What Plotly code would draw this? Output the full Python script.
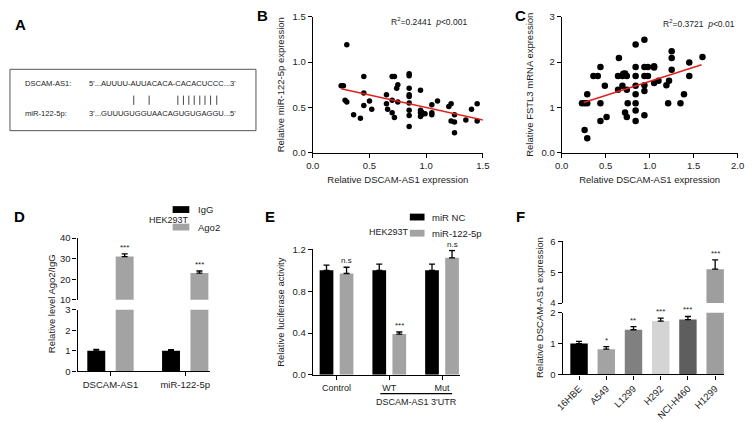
import plotly.graph_objects as go

# ---------------- data ----------------
# Panel B: DSCAM-AS1 vs miR-122-5p
b_x = [0.30, 0.25, 0.27, 0.285, 0.30, 0.36, 0.42, 0.45, 0.45, 0.45, 0.50, 0.52, 0.65, 0.65, 0.66,
       0.70, 0.70, 0.70, 0.72, 0.72, 0.74, 0.75, 0.75, 0.85, 0.85, 0.85, 0.85, 0.85, 0.85, 0.85,
       0.85, 0.85, 0.95, 0.95, 0.95, 0.95, 0.96, 0.96, 0.99, 1.05, 1.05, 1.05, 1.10, 1.20, 1.22,
       1.22, 1.25, 1.25, 1.25, 1.35, 1.40, 1.45, 1.45]
b_y = [1.19, 0.74, 0.74, 0.58, 0.56, 0.42, 0.38, 0.84, 0.66, 0.52, 0.57, 0.48, 0.64, 0.54, 0.48,
       0.58, 0.44, 0.84, 0.84, 0.39, 0.71, 0.75, 0.56, 0.87, 0.85, 0.71, 0.64, 0.62, 0.55, 0.47,
       0.41, 0.29, 0.69, 0.47, 0.44, 0.40, 0.45, 0.42, 0.43, 0.53, 0.44, 0.42, 0.57, 0.51, 0.54,
       0.35, 0.42, 0.34, 0.22, 0.36, 0.48, 0.54, 0.35]
b_fit_x = [0.25, 1.51]
b_fit_y = [0.705, 0.36]
b_stat = "R<sup>2</sup>=0.2441  <i>p</i><0.001"

# Panel C: DSCAM-AS1 vs FSTL3
c_x = [0.23, 0.26, 0.29, 0.29, 0.26, 0.29, 0.36, 0.41, 0.44, 0.44, 0.44, 0.49, 0.51, 0.64, 0.64,
       0.65, 0.69, 0.70, 0.72, 0.74, 0.69, 0.74, 0.72, 0.74, 0.75, 0.84, 0.84, 0.84, 0.84, 0.84,
       0.84, 0.84, 0.84, 0.94, 0.94, 0.94, 0.94, 0.94, 0.94, 0.98, 0.98, 1.05, 1.05, 1.05, 1.10,
       1.19, 1.22, 1.21, 1.25, 1.25, 1.25, 1.35, 1.39, 1.45, 1.45, 1.60]
c_y = [1.09, 1.09, 1.09, 1.29, 0.50, 0.32, 1.69, 1.69, 1.89, 1.09, 0.70, 1.48, 0.79, 1.69, 1.39,
       2.09, 1.69, 1.74, 1.75, 1.69, 1.48, 1.39, 0.89, 0.79, 1.09, 2.39, 1.89, 1.69, 1.48, 1.29,
       1.09, 0.93, 0.70, 2.49, 1.89, 1.69, 1.49, 1.36, 0.83, 1.89, 1.69, 1.91, 1.88, 1.54, 1.59,
       1.49, 1.59, 1.09, 2.24, 2.09, 1.83, 1.09, 1.29, 1.99, 1.69, 2.11]
c_fit_x = [0.25, 1.59]
c_fit_y = [1.11, 1.94]
c_stat = "R<sup>2</sup>=0.3721  <i>p</i><0.01"

# Panel D: RIP assay
d_cats = ["DSCAM-AS1", "miR-122-5p"]
d_series = ["IgG", "Ago2"]
d_igg = [1.0, 1.0]
d_igg_err = [0.07, 0.06]
d_ago2 = [31.0, 23.0]
d_ago2_err = [1.3, 1.0]
d_sig = ["***", "***"]

# Panel E: luciferase
e_cats = ["Control", "WT", "Mut"]
e_series = ["miR NC", "miR-122-5p"]
e_nc = [1.0, 1.0, 1.0]
e_nc_err = [0.05, 0.06, 0.06]
e_mir = [0.97, 0.39, 1.12]
e_mir_err = [0.06, 0.02, 0.07]
e_sig = ["n.s", "***", "n.s"]

# Panel F: cell lines
f_cats = ["16HBE", "A549", "L1299", "H292", "NCI-H460", "H1299"]
f_vals = [1.0, 0.82, 1.45, 1.73, 1.78, 5.1]
f_err = [0.07, 0.08, 0.1, 0.1, 0.1, 0.3]
f_sig = ["", "*", "**", "***", "***", "***"]
f_colors = ["#000000", "#a3a3a3", "#808080", "#d4d4d4", "#5e5e5e", "#9e9e9e"]

# Panel A: sequences
seq_top_label = "DSCAM-AS1:"
seq_top = "5'...AUUUU-AUUACACA-CACACUCCC...3'"
seq_bot_label = "miR-122-5p:"
seq_bot = "3'...GUUUGUGGUAACAGUGUGAGGU...5'"

# ---------------- layout helpers ----------------
W, H = 752, 422
FONT = "Liberation Sans, Arial, sans-serif"
TXT = "#222222"
GRAY = "#a3a3a3"
SERIES_COLORS = ["black", GRAY]


def px(x):
    return x / W


def py(y):
    return 1 - y / H


axis_style = dict(showline=True, linecolor="black", linewidth=1.3, ticks="outside",
                  ticklen=4, tickwidth=1.3, tickcolor="black", showgrid=False,
                  zeroline=False, tickfont=dict(size=9.5, color=TXT, family=FONT))

fig = go.Figure()

# ---- B ----
fig.add_trace(go.Scatter(x=b_x, y=b_y, mode="markers", marker=dict(color="black", size=5.5),
                         xaxis="x", yaxis="y", showlegend=False))
fig.add_trace(go.Scatter(x=b_fit_x, y=b_fit_y, mode="lines", line=dict(color="#e3201b", width=1.5),
                         xaxis="x", yaxis="y", showlegend=False))
# ---- C ----
fig.add_trace(go.Scatter(x=c_x, y=c_y, mode="markers", marker=dict(color="black", size=6.5),
                         xaxis="x2", yaxis="y2", showlegend=False))
fig.add_trace(go.Scatter(x=c_fit_x, y=c_fit_y, mode="lines", line=dict(color="#e3201b", width=1.5),
                         xaxis="x2", yaxis="y2", showlegend=False))

err_style = dict(type="data", symmetric=False, color="black", thickness=1.3, width=3)

# ---- D (broken axis: bottom x3/y3, top x4/y4) ----
for xa, ya in (("x3", "y3"), ("x4", "y4")):
    fig.add_trace(go.Bar(x=d_cats, y=d_igg, name=d_series[0],
                         marker=dict(color=SERIES_COLORS[0], line_width=0),
                         width=0.24, offset=-0.31, xaxis=xa, yaxis=ya, showlegend=False,
                         error_y=dict(array=d_igg_err, arrayminus=[0] * len(d_igg), **err_style)))
    fig.add_trace(go.Bar(x=d_cats, y=d_ago2, name=d_series[1],
                         marker=dict(color=SERIES_COLORS[1], line_width=0),
                         width=0.24, offset=0.07, xaxis=xa, yaxis=ya, showlegend=False,
                         error_y=dict(array=d_ago2_err, arrayminus=[0] * len(d_ago2), **err_style)))

# ---- E ----
fig.add_trace(go.Bar(x=e_cats, y=e_nc, name=e_series[0],
                     marker=dict(color=SERIES_COLORS[0], line_width=0),
                     width=0.26, offset=-0.32, xaxis="x5", yaxis="y5", showlegend=False,
                     error_y=dict(array=e_nc_err, arrayminus=[0] * 3, **err_style)))
fig.add_trace(go.Bar(x=e_cats, y=e_mir, name=e_series[1],
                     marker=dict(color=SERIES_COLORS[1], line_width=0),
                     width=0.26, offset=0.06, xaxis="x5", yaxis="y5", showlegend=False,
                     error_y=dict(array=e_mir_err, arrayminus=[0] * 3, **err_style)))

# ---- F (broken axis: bottom x6/y6, top x7/y7) ----
for xa, ya in (("x6", "y6"), ("x7", "y7")):
    fig.add_trace(go.Bar(x=f_cats, y=f_vals, marker=dict(color=f_colors, line_width=0),
                         width=0.64, xaxis=xa, yaxis=ya, showlegend=False,
                         error_y=dict(array=f_err, arrayminus=[0] * len(f_vals), **err_style)))

lay = dict(
    width=W, height=H, autosize=False,
    margin=dict(l=0, r=0, t=0, b=0),
    paper_bgcolor="white", plot_bgcolor="white",
    font=dict(family=FONT, size=9.5, color=TXT),
    barmode="overlay", showlegend=False,
)

title_font = dict(size=9.5, color=TXT, family=FONT)

lay["xaxis"] = dict(axis_style, domain=[px(311), px(484.5)], range=[0, 1.5], anchor="y",
                    tickvals=[0, 0.5, 1.0, 1.5], ticktext=["0.0", "0.5", "1.0", "1.5"],
                    title=dict(text="Relative DSCAM-AS1 expression", font=title_font, standoff=6))
lay["yaxis"] = dict(axis_style, domain=[py(150.7), py(11)], range=[0, 1.5], anchor="x",
                    tickvals=[0, 0.5, 1.0, 1.5], ticktext=["0.0", "0.5", "1.0", "1.5"],
                    title=dict(text="Relative miR-122-5p expression", font=title_font, standoff=6))
lay["xaxis2"] = dict(axis_style, domain=[px(565), px(744.5)], range=[0, 2], anchor="y2",
                     tickvals=[0, 0.5, 1.0, 1.5, 2.0], ticktext=["0.0", "0.5", "1.0", "1.5", "2.0"],
                     title=dict(text="Relative DSCAM-AS1 expression", font=title_font, standoff=6))
lay["yaxis2"] = dict(axis_style, domain=[py(150.7), py(11)], range=[0, 3], anchor="x2",
                     tickvals=[0, 1, 2, 3], ticktext=["0.0", "1", "2", "3"],
                     title=dict(text="Relative FSTL3 mRNA expression", font=title_font, standoff=6))

# D
lay["xaxis3"] = dict(axis_style, domain=[px(71), px(206)], type="category", range=[-0.44, 1.33],
                     anchor="y3")
lay["yaxis3"] = dict(axis_style, domain=[py(375), py(312)], range=[0, 3], anchor="x3",
                     tickvals=[0, 1, 2, 3])
lay["xaxis4"] = dict(domain=[px(71), px(206)], type="category", range=[-0.44, 1.33],
                     anchor="y4", visible=False, matches="x3")
lay["yaxis4"] = dict(axis_style, domain=[py(301.7), py(238.3)], range=[10, 40], anchor="x4",
                     tickvals=[10, 20, 30, 40])
# E
lay["xaxis5"] = dict(axis_style, domain=[px(311), px(461.7)], type="category",
                     range=[-0.45, 2.35], anchor="y5",
                     tickfont=dict(size=9, color=TXT, family=FONT))
lay["yaxis5"] = dict(axis_style, domain=[py(378.7), py(250)], range=[0, 1.2], anchor="x5",
                     tickvals=[0, 0.4, 0.8, 1.2], ticktext=["0.0", "0.4", "0.8", "1.2"],
                     title=dict(text="Relative luciferase activity", font=title_font, standoff=6))
# F
lay["xaxis6"] = dict(axis_style, domain=[px(566), px(731)], type="category",
                     range=[-0.6, 5.34], anchor="y6", tickangle=-45)
lay["yaxis6"] = dict(axis_style, domain=[py(378.3), py(315)], range=[0, 2], anchor="x6",
                     tickvals=[0, 1, 2])
lay["xaxis7"] = dict(domain=[px(566), px(731)], type="category", range=[-0.6, 5.34],
                     anchor="y7", visible=False, matches="x6")
lay["yaxis7"] = dict(axis_style, domain=[py(305), py(241.7)], range=[4, 6], anchor="x7",
                     tickvals=[4, 5, 6])

fig.update_layout(**lay)

ann = []
shapes = []

# panel letters
for letter, x, y in (("A", 5, 19), ("B", 252, 10), ("C", 515, 10),
                     ("D", 4, 216), ("E", 260, 216), ("F", 516, 216)):
    ann.append(dict(text=f"<b>{letter}</b>", x=px(x), y=py(y), xref="paper", yref="paper",
                    xanchor="left", yanchor="middle", showarrow=False,
                    font=dict(size=15, color="black", family=FONT)))

# panel A sequences
seq_font = dict(size=7.6, color=TXT, family=FONT)
for label, seq, y in ((seq_top_label, seq_top, 80), (seq_bot_label, seq_bot, 110)):
    ann.append(dict(text=label, x=px(15), y=py(y), xref="paper", yref="paper", xanchor="left",
                    yanchor="middle", showarrow=False, font=seq_font))
    ann.append(dict(text=seq, x=px(81), y=py(y), xref="paper", yref="paper", xanchor="left",
                    yanchor="middle", showarrow=False, font=seq_font))

# stats
ann.append(dict(text=b_stat, x=px(470), y=py(16), xref="paper", yref="paper", xanchor="right",
                yanchor="middle", showarrow=False, font=dict(size=8.5, color=TXT, family=FONT)))
ann.append(dict(text=c_stat, x=px(744), y=py(18), xref="paper", yref="paper", xanchor="right",
                yanchor="middle", showarrow=False, font=dict(size=8.5, color=TXT, family=FONT)))

# HEK293T labels
ann.append(dict(text="HEK293T", x=px(142), y=py(220), xref="paper", yref="paper",
                showarrow=False, font=dict(size=9, color=TXT, family=FONT)))
ann.append(dict(text="HEK293T", x=px(389), y=py(232), xref="paper", yref="paper",
                showarrow=False, font=dict(size=9, color=TXT, family=FONT)))

# legends (drawn keys)
leg_font = dict(size=9.5, color=TXT, family=FONT)
for names, x0, x1, tx, ys in ((d_series, 168, 185, 192, (209, 227)),
                              (e_series, 410, 425, 431, (216.7, 233.3))):
    for name, col, yc in zip(names, SERIES_COLORS, ys):
        shapes.append(dict(type="rect", xref="paper", yref="paper", x0=px(x0), x1=px(x1),
                           y0=py(yc + 3.5), y1=py(yc - 3.5), fillcolor=col, line=dict(width=0)))
        ann.append(dict(text=name, x=px(tx), y=py(yc), xref="paper", yref="paper",
                        xanchor="left", yanchor="middle", showarrow=False, font=leg_font))

sig_font = dict(size=8, color=TXT, family=FONT)
# D significance
for i, (v, e, s) in enumerate(zip(d_ago2, d_ago2_err, d_sig)):
    ann.append(dict(text=s, x=i + 0.19, y=v + e, xref="x4", yref="y4", yanchor="bottom",
                    showarrow=False, font=sig_font))
# E significance
for i, (v, e, s) in enumerate(zip(e_mir, e_mir_err, e_sig)):
    ann.append(dict(text=s, x=i + 0.19, y=v + e, xref="x5", yref="y5", yanchor="bottom",
                    showarrow=False, font=sig_font))
# F significance
for i, (v, e, s) in enumerate(zip(f_vals, f_err, f_sig)):
    if not s:
        continue
    yr = "y7" if v > 2 else "y6"
    xr = "x7" if v > 2 else "x6"
    ann.append(dict(text=s, x=i, y=v + e, xref=xr, yref=yr, yanchor="bottom",
                    showarrow=False, font=sig_font))

# split-axis y titles
ann.append(dict(text="Relative level Ago2/IgG", x=px(44), y=py(306), xref="paper", yref="paper",
                xanchor="center", yanchor="middle", textangle=-90, showarrow=False,
                font=title_font))
ann.append(dict(text="Relative DSCAM-AS1 expression", x=px(543), y=py(310), xref="paper",
                yref="paper", xanchor="center", yanchor="middle", textangle=-90,
                showarrow=False, font=title_font))

# E group label
ann.append(dict(text="DSCAM-AS1 3'UTR", x=px(417), y=py(407), xref="paper", yref="paper",
                yanchor="middle", showarrow=False, borderpad=0,
                font=dict(size=9, color=TXT, family=FONT)))

fig.update_layout(annotations=ann)

# panel A box
shapes.append(dict(type="rect", xref="paper", yref="paper", x0=px(2), x1=px(253), y0=py(128),
                   y1=py(65), line=dict(color="#555555", width=1)))
# base-pairing ticks
for xp in (128.3, 144, 173.3, 179, 184.5, 190, 195.7, 201, 206.7, 213):
    shapes.append(dict(type="line", xref="paper", yref="paper", x0=px(xp), x1=px(xp),
                       y0=py(101.5), y1=py(92), line=dict(color="#333333", width=0.9)))
# E underline for WT/Mut
shapes.append(dict(type="line", xref="x5", yref="paper", x0=0.83, x1=2.19, y0=py(398),
                   y1=py(398), line=dict(color="black", width=1.3)))
fig.update_layout(shapes=shapes)

fig.write_html("out.html",
               config={"displayModeBar": False},
               post_script="document.body.style.margin='0';document.body.style.padding='0';"
                           "document.body.style.overflow='hidden';")
